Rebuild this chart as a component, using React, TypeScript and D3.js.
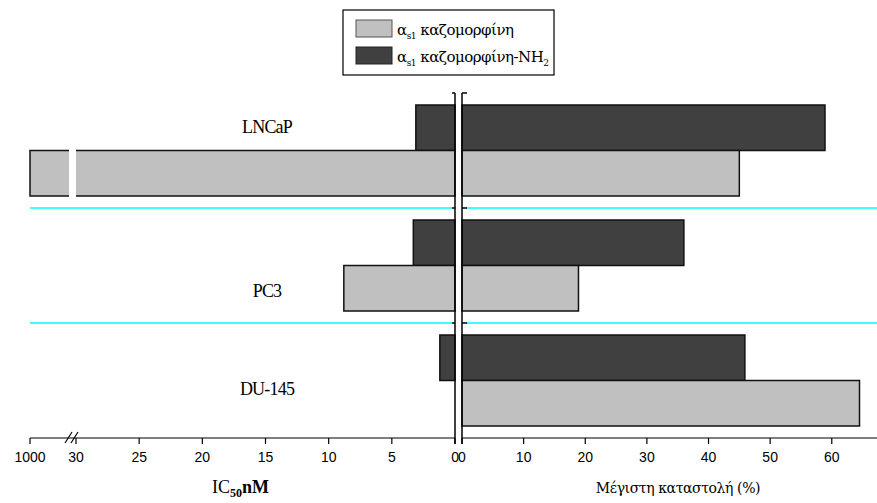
import React from "react";
import * as d3 from "d3";

const groups = ["LNCaP", "PC3", "DU-145"];
const series = ["NH2", "plain"];
// IC50 nM (left side); 1000 sits past the axis break
const ic50Plain = [1000, 8.8, 0];
const ic50NH2 = [3.1, 3.3, 1.2];
// maximum inhibition % (right side)
const inhibPlain = [45, 18.9, 64.5];
const inhibNH2 = [58.9, 36, 45.9];
const leftTicks = [30, 25, 20, 15, 10, 5, 0];
const rightTicks = [0, 10, 20, 30, 40, 50, 60];

const LIGHT = "#c0c0c0";
const DARK = "#404040";
const CYAN = "#40ffff";

export default function App() {
  const W = 877, H = 503;
  const axisY = 438;
  const leftZero = 455, rightZero = 462;

  const xl = d3.scaleLinear().domain([0, 30, 1000]).range([leftZero, 76, 30]);
  const xr = d3.scaleLinear().domain([0, 67.5]).range([rightZero, 878]);
  const y = d3.scaleBand().domain(groups).range([93, axisY]);
  const inner = d3.scaleBand().domain(series).range([12, y.bandwidth() - 12]);

  const rows = groups.map((g, i) => ({
    g,
    bars: [
      { s: "NH2", left: ic50NH2[i], right: inhibNH2[i], fill: DARK },
      { s: "plain", left: ic50Plain[i], right: inhibPlain[i], fill: LIGHT },
    ],
  }));

  const serif = "'Liberation Serif', 'DejaVu Serif', serif";
  const greek = "'DejaVu Serif', serif";
  const sans = "'Liberation Sans', Arial, sans-serif";

  return (
    <svg width={W} height={H} style={{ position: "absolute", left: 0, top: 0, background: "#fff" }}>
      {/* separators between cell lines */}
      {groups.slice(1).map(g => (
        <g key={g}>
          <line x1={30} x2={452} y1={y(g)!} y2={y(g)!} stroke={CYAN} strokeWidth={2} />
          <line x1={466} x2={W} y1={y(g)!} y2={y(g)!} stroke={CYAN} strokeWidth={2} />
        </g>
      ))}

      {/* bars */}
      {rows.map(r => (
        <g key={r.g} transform={`translate(0,${y(r.g)})`}>
          {r.bars.map(b => (
            <g key={b.s}>
              {b.left > 0 && (
                <rect x={xl(b.left)} y={inner(b.s)} width={leftZero - xl(b.left)} height={inner.bandwidth()}
                  fill={b.fill} stroke="#111" strokeWidth={1.5} />
              )}
              <rect x={rightZero} y={inner(b.s)} width={xr(b.right) - rightZero} height={inner.bandwidth()}
                fill={b.fill} stroke="#111" strokeWidth={1.5} />
            </g>
          ))}
          <text x={267} y={r.g === "LNCaP" ? 40 : r.g === "PC3" ? 89 : 72} textAnchor="middle"
            fontFamily={serif} fontSize={18} letterSpacing={-0.8}>{r.g}</text>
        </g>
      ))}

      {/* axis break gap through the long bar */}
      <rect x={69} y={y("LNCaP")! + inner("plain")! - 2} width={7} height={inner.bandwidth() + 4} fill="#fff" />

      {/* central double axis */}
      <line x1={leftZero} x2={leftZero} y1={93} y2={axisY + 6} stroke="#000" strokeWidth={1.5} />
      <line x1={rightZero} x2={rightZero} y1={93} y2={axisY + 6} stroke="#000" strokeWidth={1.5} />
      {[93, ...groups.slice(1).map(g => y(g)!)].map(v => (
        <g key={v}>
          <line x1={leftZero - 3} x2={leftZero} y1={v} y2={v} stroke="#000" strokeWidth={1.5} />
          <line x1={rightZero} x2={rightZero + 5} y1={v} y2={v} stroke="#000" strokeWidth={1.5} />
        </g>
      ))}

      {/* bottom axes */}
      <line x1={30} x2={leftZero} y1={axisY} y2={axisY} stroke="#000" strokeWidth={1.2} />
      <line x1={rightZero} x2={W} y1={axisY} y2={axisY} stroke="#000" strokeWidth={1.2} />
      {[1000, ...leftTicks].map(t => (
        <g key={"l" + t} transform={`translate(${xl(t)},${axisY})`}>
          <line y2={6} stroke="#000" strokeWidth={1.2} />
          <text y={24} textAnchor={t === 0 ? "end" : "middle"} dx={t === 0 ? 4 : 0}
            fontFamily={sans} fontSize={14}>{t}</text>
        </g>
      ))}
      {rightTicks.map(t => (
        <g key={"r" + t} transform={`translate(${xr(t)},${axisY})`}>
          <line y2={6} stroke="#000" strokeWidth={1.2} />
          <text y={24} textAnchor={t === 0 ? "start" : "middle"} dx={t === 0 ? -4 : 0}
            fontFamily={sans} fontSize={14}>{t}</text>
        </g>
      ))}
      {/* break marks */}
      <line x1={65} x2={72} y1={axisY + 5} y2={axisY - 6} stroke="#000" strokeWidth={1.2} />
      <line x1={71} x2={78} y1={axisY + 5} y2={axisY - 6} stroke="#000" strokeWidth={1.2} />

      {/* axis titles */}
      <text x={212} y={493} fontFamily={serif} fontSize={18}>
        IC<tspan dy={4} fontSize={12} fontWeight="bold">50</tspan>
        <tspan dy={-4} fontWeight="bold">nM</tspan>
      </text>
      <text x={678} y={493} textAnchor="middle" fontFamily={greek} fontSize={14} letterSpacing={-0.4}>Μέγιστη καταστολή (%)</text>

      {/* legend */}
      <rect x={343} y={10} width={211} height={65} fill="#fff" stroke="#000" strokeWidth={1.2} />
      <rect x={356} y={20} width={36} height={17} fill={LIGHT} stroke="#555" strokeWidth={1} />
      <rect x={356} y={47} width={36} height={17} fill={DARK} stroke="#222" strokeWidth={1} />
      <text x={397} y={35} fontFamily={greek} fontSize={15} letterSpacing={-0.5}>
        α<tspan dy={4} fontSize={9}>s1</tspan><tspan dy={-4}> καζομορφίνη</tspan>
      </text>
      <text x={397} y={62} fontFamily={greek} fontSize={15} letterSpacing={-0.5}>
        α<tspan dy={4} fontSize={9}>s1</tspan><tspan dy={-4}> καζομορφίνη-NH</tspan>
        <tspan dy={4} fontSize={9}>2</tspan>
      </text>
    </svg>
  );
}
